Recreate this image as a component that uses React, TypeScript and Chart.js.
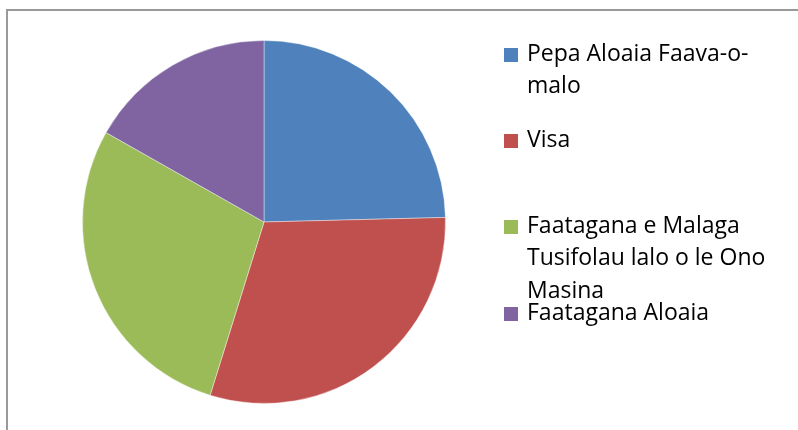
import React, { useEffect, useRef } from "react";
import { Chart, registerables } from "chart.js";

Chart.register(...registerables);

const categories = [
  "Pepa Aloaia Faava-o-malo",
  "Visa",
  "Faatagana e Malaga Tusifolau lalo o le Ono Masina",
  "Faatagana Aloaia",
];
const legendLines = [
  ["Pepa Aloaia Faava-o-", "malo"],
  ["Visa"],
  ["Faatagana e Malaga", "Tusifolau lalo o le Ono", "Masina"],
  ["Faatagana Aloaia"],
];
const values = [24.6, 30.2, 28.4, 16.8];
const colors = ["#4F81BD", "#C0504D", "#9BBB59", "#8064A2"];
const legendTops = [62, 148, 234, 320.5]; // baseline of first line of each entry

export default function App() {
  const canvasRef = useRef<HTMLCanvasElement | null>(null);

  useEffect(() => {
    document.body.style.margin = "0";
    const ctx = canvasRef.current;
    if (!ctx) return;
    const chart = new Chart(ctx, {
      type: "pie",
      data: {
        labels: categories,
        datasets: [
          {
            data: values,
            backgroundColor: colors,
            borderColor: "rgba(255,255,255,0.4)",
            borderWidth: 1,
          },
        ],
      },
      options: {
        responsive: false,
        animation: false,
        layout: { padding: { left: 82, right: 352, top: 40, bottom: 26 } },
        plugins: {
          legend: { display: false },
          tooltip: { enabled: false },
        },
      },
    });
    return () => chart.destroy();
  }, []);

  const lineH = 32.3;
  return (
    <div style={{ position: "fixed", left: 0, top: 0, width: 798, height: 430, overflow: "hidden", background: "#fff" }}>
      <div
        style={{
          position: "absolute",
          left: 6,
          top: 9,
          width: 900,
          height: 600,
          borderTop: "2px solid #999",
          borderLeft: "2px solid #999",
          boxSizing: "border-box",
        }}
      />
      <canvas ref={canvasRef} width={798} height={430} style={{ position: "absolute", left: 0, top: 0 }} />
      {legendLines.map((lines, i) => (
        <React.Fragment key={i}>
          <div
            style={{
              position: "absolute",
              left: 504,
              top: legendTops[i] - 14,
              width: 14,
              height: 14,
              background: colors[i],
            }}
          />
          {lines.map((ln, j) => (
            <div
              key={j}
              style={{
                position: "absolute",
                left: 527,
                top: legendTops[i] + j * lineH - 25,
                height: 30,
                lineHeight: "30px",
                fontFamily: "'Open Sans', sans-serif",
                fontSize: 23,
                color: "#000",
                whiteSpace: "nowrap",
              }}
            >
              {ln}
            </div>
          ))}
        </React.Fragment>
      ))}
    </div>
  );
}
